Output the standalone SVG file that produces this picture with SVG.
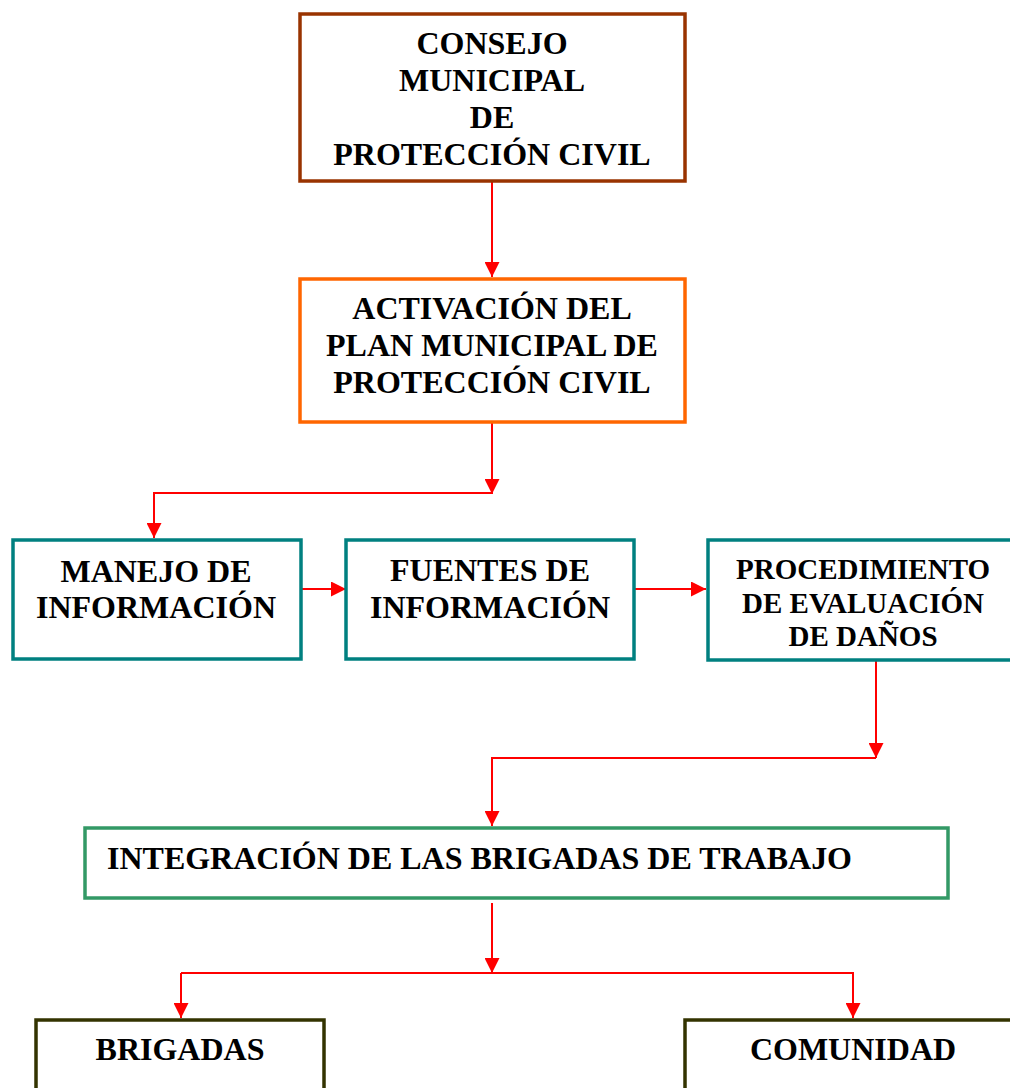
<svg xmlns="http://www.w3.org/2000/svg" width="1010" height="1088" viewBox="0 0 1010 1088">
<style>
.box{fill:#ffffff;stroke-width:3.5}
.t{font-family:"Liberation Serif","Times New Roman",serif;font-weight:bold;font-size:32px;fill:#000;text-anchor:middle}
.c{fill:none;stroke:#ff0000;stroke-width:2}
</style>
<defs>
<marker id="ah" markerUnits="userSpaceOnUse" markerWidth="15" markerHeight="15" refX="15" refY="7.5" orient="auto" viewBox="0 0 15 15">
<path d="M0,0 L15,7.5 L0,15 z" fill="#ff0000"/>
</marker>
</defs>
<rect width="1010" height="1088" fill="#ffffff"/>
<g id="connectors">
<path class="c" d="M492,182 L492,277" marker-end="url(#ah)"/>
<path class="c" d="M492,423 L492,494" marker-end="url(#ah)"/>
<path class="c" d="M492,493 L154,493 L154,538" marker-end="url(#ah)"/>
<path class="c" d="M301,589 L346,589" marker-end="url(#ah)"/>
<path class="c" d="M635,589 L706,589" marker-end="url(#ah)"/>
<path class="c" d="M876,661 L876,758" marker-end="url(#ah)"/>
<path class="c" d="M876,758 L492,758 L492,826" marker-end="url(#ah)"/>
<path class="c" d="M492,903 L492,973" marker-end="url(#ah)"/>
<path class="c" d="M181,973 L853,973 L853,1018" marker-end="url(#ah)"/>
<path class="c" d="M181,973 L181,1018" marker-end="url(#ah)"/>
</g>
<g id="consejo">
<rect class="box" x="300" y="14" width="385" height="167" stroke="#993300"/>
<text class="t" x="492" y="54">CONSEJO</text>
<text class="t" x="492" y="91">MUNICIPAL</text>
<text class="t" x="492" y="128">DE</text>
<text class="t" x="492" y="165">PROTECCIÓN CIVIL</text>
</g>
<g id="activacion">
<rect class="box" x="300" y="279" width="385" height="143" stroke="#ff6600"/>
<text class="t" x="492" y="319">ACTIVACIÓN DEL</text>
<text class="t" x="492" y="356">PLAN MUNICIPAL DE</text>
<text class="t" x="492" y="393">PROTECCIÓN CIVIL</text>
</g>
<g id="manejo">
<rect class="box" x="13" y="540" width="288" height="119" stroke="#008080"/>
<text class="t" x="156" y="582">MANEJO DE</text>
<text class="t" x="156" y="618">INFORMACIÓN</text>
</g>
<g id="fuentes">
<rect class="box" x="346" y="540" width="288" height="119" stroke="#008080"/>
<text class="t" x="490" y="581">FUENTES DE</text>
<text class="t" x="490" y="618">INFORMACIÓN</text>
</g>
<g id="procedimiento">
<rect class="box" x="708" y="540" width="330" height="120" stroke="#008080"/>
<text class="t" x="863" y="579" style="font-size:29px">PROCEDIMIENTO</text>
<text class="t" x="863" y="613" style="font-size:29px">DE EVALUACIÓN</text>
<text class="t" x="863" y="646" style="font-size:29px">DE DAÑOS</text>
</g>
<g id="integracion">
<rect class="box" x="85" y="828" width="863" height="70" stroke="#339966"/>
<text class="t" x="107" y="869" style="text-anchor:start" textLength="745" lengthAdjust="spacingAndGlyphs">INTEGRACIÓN DE LAS BRIGADAS DE TRABAJO</text>
</g>
<g id="brigadas">
<rect class="box" x="36" y="1020" width="288" height="100" stroke="#333300"/>
<text class="t" x="180" y="1060">BRIGADAS</text>
</g>
<g id="comunidad">
<rect class="box" x="685" y="1020" width="360" height="100" stroke="#333300"/>
<text class="t" x="853" y="1060">COMUNIDAD</text>
</g>
</svg>
